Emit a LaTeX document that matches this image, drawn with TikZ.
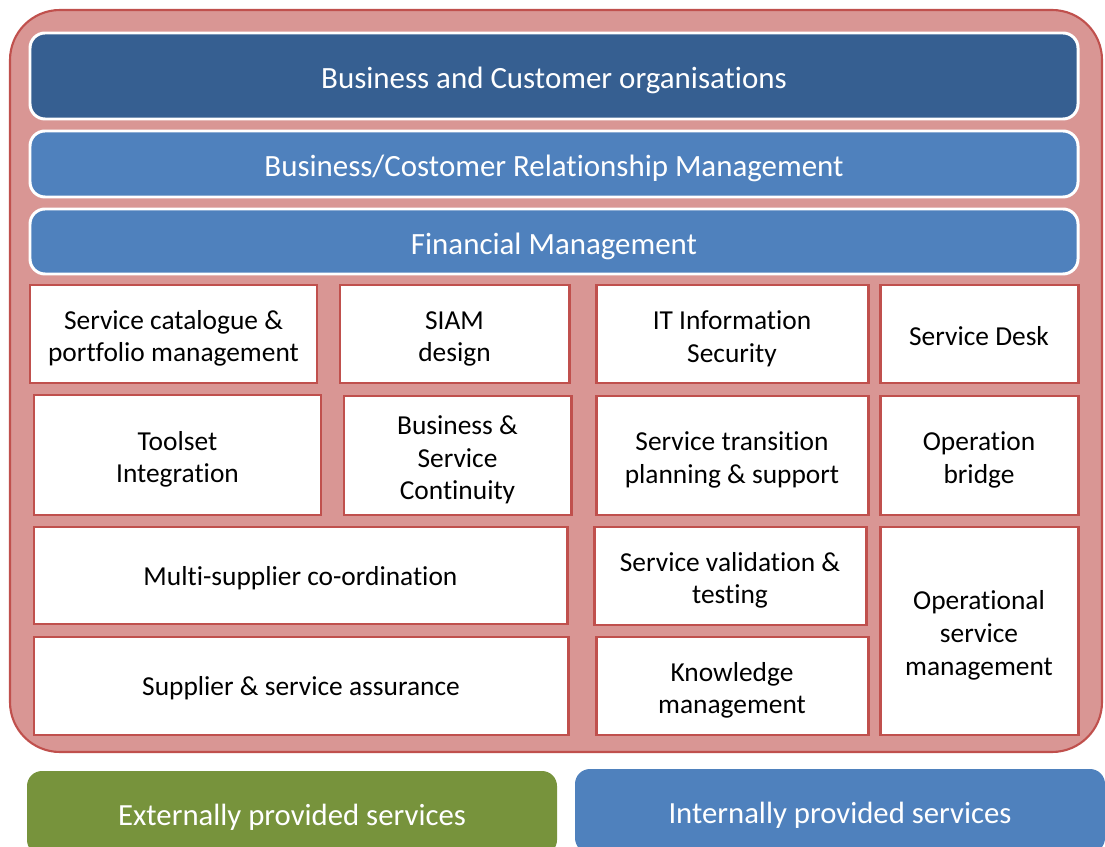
\documentclass[tikz,border=0pt]{standalone}
\usepackage{fontspec}
\setmainfont{Carlito}[Ligatures=NoCommon]

\definecolor{siamred}{HTML}{C0504D}
\definecolor{siampink}{HTML}{D99694}
\definecolor{siamnavy}{HTML}{365F91}
\definecolor{siamblue}{HTML}{4F81BD}
\definecolor{siamgreen}{HTML}{77933C}

\tikzset{
	sz/.style 2 args={minimum width=#1*0.02cm, minimum height=#2*0.02cm},
	lowtext/.style={execute at begin node={\rule{0pt}{1em}}},
	frame/.style={draw=siamred, fill=siampink, line width=1.2pt, rounded corners=1cm, inner sep=0pt},
	layer/.style={draw=white, line width=1.7pt, rounded corners=0.3cm, inner sep=0pt, text=white, lowtext, font=\fontsize{17.6}{21}\selectfont},
	cell/.style={draw=siamred, fill=white, line width=1.7pt, inner sep=0pt, align=center, text height=13.5pt, font=\fontsize{15.6}{18.7}\selectfont},
	lines2/.style={text height=34.4pt},
	lines3/.style={text height=53.1pt},
	source/.style={rounded corners=0.3cm, inner sep=0pt, text=white, lowtext, font=\fontsize{17.5}{21}\selectfont}
}

\begin{document}
\begin{tikzpicture}[x=0.02cm, y=-0.02cm]
	\useasboundingbox (0,0) rectangle (1105,847);

	% red frame round the SIAM layers
	\node[frame, sz={1092}{742}] (siam) at (556,381) {};

	% the three bars on top
	\node[layer, fill=siamnavy, sz={1048}{86}] (customer) at (554,76) {Business and Customer organisations};
	\node[layer, fill=siamblue, sz={1048}{66}] (relation) at (554,164) {Business/Costomer Relationship Management};
	\node[layer, fill=siamblue, sz={1048}{65}] (finance) at (554,241.5) {Financial Management};

	% row 1
	\node[cell, lines2, sz={287}{98}] (catalogue) at (173.5,334) {Service catalogue \&\\portfolio management};
	\node[cell, lines2, sz={229}{98}] (design) at (454.5,334) {SIAM\\design};
	\node[cell, lines2, sz={272}{98}] (security) at (732,334) {IT Information\\Security};
	\node[cell, sz={198}{98}] (desk) at (979,334) {Service Desk};

	% row 2
	\node[cell, lines2, sz={287}{120}] (toolset) at (177.5,455) {Toolset\\Integration};
	\node[cell, lines3, sz={227}{119}] (continuity) at (457.5,455.5) {Business \&\\Service\\Continuity};
	\node[cell, lines2, sz={272}{119}] (transition) at (732,455.5) {Service transition\\planning \& support};
	\node[cell, lines2, sz={198}{119}] (bridge) at (979,455.5) {Operation\\bridge};

	% rows 3 and 4
	\node[cell, sz={533}{97}] (multi) at (300.5,575.5) {Multi-supplier co-ordination};
	\node[cell, lines2, sz={272}{98}] (validation) at (730,576) {Service validation \&\\testing};
	\node[cell, lines3, sz={198}{208}] (operations) at (979,631) {Operational\\service\\management};
	\node[cell, sz={534}{98}] (assurance) at (301,686) {Supplier \& service assurance};
	\node[cell, lines2, sz={272}{98}] (knowledge) at (732,686) {Knowledge\\management};

	% service providers below
	\node[source, fill=siamgreen, sz={530}{84}] (external) at (292,813) {Externally provided services};
	\node[source, fill=siamblue, sz={530}{84}] (internal) at (840,811) {Internally provided services};
\end{tikzpicture}
\end{document}
